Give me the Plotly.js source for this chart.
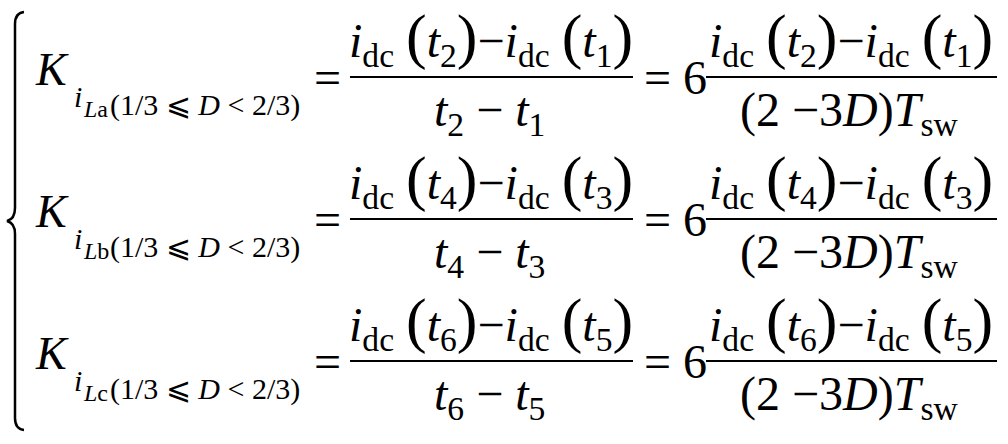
<!DOCTYPE html>
<html>
<head>
<meta charset="utf-8">
<script src="https://cdn.plot.ly/plotly-3.0.1.min.js"></script>
<style>
html, body { margin: 0; padding: 0; background: #fff; }
#main text, #main tspan { font-family: 'Liberation Serif' !important; }
</style>
</head>
<body>
<div id="main" style="width:1008px;height:444px"></div>
<script>
// equation content
const phases = ['a', 'b', 'c']
const tLater = [2, 4, 6]
const tEarlier = [1, 3, 5]
const dutyRange = ['1/3', '2/3']
const gain = 6
const currentSub = 'dc'
const periodSub = 'sw'

const FONT = 'Liberation Serif'
const BIG = 48

const annotations = []
const shapes = []

const txt = (x, y, text, size, xanchor, yanchor) => {
  annotations.push({
    x: x, y: y, text: text, showarrow: false,
    xanchor: xanchor || 'left', yanchor: yanchor || 'middle',
    font: { family: FONT, size: size, color: '#000' }
  })
}
// put the text baseline at b
const onBase = (x, b, text, size, xanchor) => txt(x, b - 0.3375 * size, text, size, xanchor, 'middle')

const paren = (s) => '<span style="font-size:62px">' + s + '</span>'
const idc = '<i>i</i><sub>' + currentSub + '</sub> '
const tt = (k) => '<i>t</i><sub>' + k + '</sub>'
const hline = (x0, x1, y) => shapes.push({ type: 'line', x0: x0, x1: x1, y0: y, y1: y, line: { color: '#000', width: 2 } })

phases.forEach((ph, i) => {
  const L = 77 + i * 142
  const num = idc + paren('(') + tt(tLater[i]) + paren(')') + '−' + idc + paren('(') + tt(tEarlier[i]) + paren(')')

  // left side
  onBase(33, L + 8, '<i>K</i>', 46)
  onBase(72, L + 30, '<i>i</i>', 30)
  onBase(81, L + 40, '<i>L</i>' + ph, 24)
  onBase(108, L + 38, '(' + dutyRange[0] + ' ⩽ <i>D</i> &lt; ' + dutyRange[1] + ')', 30)
  onBase(327, L + 17, '=', BIG, 'center')

  // first fraction
  txt(491, L - 1, num, BIG, 'center', 'bottom')
  txt(489, L + 4, tt(tLater[i]) + ' − ' + tt(tEarlier[i]), BIG, 'center', 'top')
  hline(350, 633, L)

  onBase(657, L + 17, '=', BIG, 'center')
  onBase(695, L + 17, String(gain), BIG, 'center')

  // second fraction
  txt(851, L - 1, num, BIG, 'center', 'bottom')
  txt(849, L + 4, '(2 −3<i>D</i>)<i>T</i><sub>' + periodSub + '</sub>', BIG, 'center', 'top')
  hline(706, 997, L)
})

// left brace
shapes.push({
  type: 'path',
  path: 'M 24 12 Q 15 13 15 24 L 15 208 Q 15 219 7 221 Q 15 223 15 234 L 15 418 Q 15 429 24 430',
  line: { color: '#000', width: 2.5 }
})

Plotly.newPlot('main', [], {
  width: 1008,
  height: 444,
  margin: { l: 0, r: 0, t: 0, b: 0 },
  paper_bgcolor: '#fff',
  plot_bgcolor: '#fff',
  showlegend: false,
  xaxis: { range: [0, 1008], visible: false, fixedrange: true },
  yaxis: { range: [444, 0], visible: false, fixedrange: true },
  annotations: annotations,
  shapes: shapes
}, { displayModeBar: false, staticPlot: true })
</script>
</body>
</html>
